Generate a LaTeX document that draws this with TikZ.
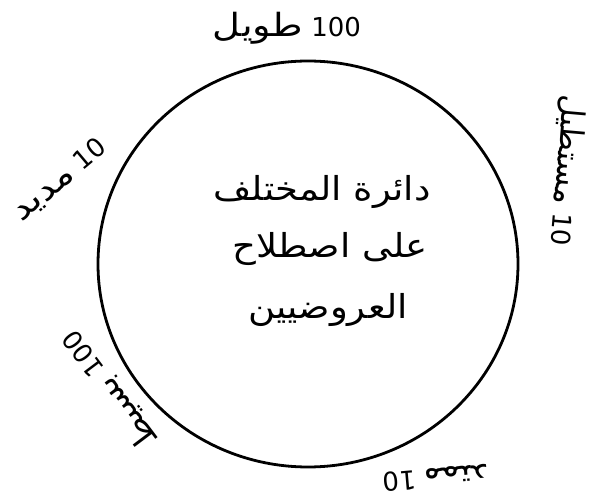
\documentclass[tikz,border=0pt]{standalone}
\usepackage{fontspec}
\usetikzlibrary{shapes.geometric}
\TeXXeTstate=1
\newfontfamily\arabicfont[Script=Arabic]{DejaVu Sans}
\setmainfont{DejaVu Sans}
\newcommand\aw[2][1.2]{\scalebox{#1}[1]{\arabicfont\fontsize{32}{36}\selectfont #2}}
\newcommand\cw[1]{\scalebox{1.12}[1]{\arabicfont\fontsize{33}{40}\selectfont\beginR #1\endR}}
\begin{document}
\begin{tikzpicture}[x=1pt,y=-1pt,
  ring/.style={ellipse,draw,line width=2.8pt,minimum width=420pt,minimum height=406pt,inner sep=0pt},
  lbl/.style={font=\fontsize{26}{30}\selectfont,inner sep=0pt},
  caption/.style={inner sep=0pt}]
\useasboundingbox (0,0) rectangle (597,502);
\node[ring] (ring) at (308,264) {};
\node[caption] (cap1) at (322,192) {\cw{دائرة المختلف}};
\node[caption] (cap2) at (330,249) {\cw{على اصطلاح}};
\node[caption] (cap3) at (328,310) {\cw{العروضيين}};
\node[lbl] (tawil) at (287,28) {\aw{طويل}~100};
\node[lbl,rotate=-95] (mustatil) at (567,171) {\aw[0.95]{مستطيل}~10};
\node[lbl,rotate=40] (madid) at (60,181) {\aw{مديد}~10};
\node[lbl,rotate=127] (basit) at (110,390) {\aw[1.05]{بسيط}~100};
\node[lbl,rotate=185] (mumtad) at (436,478) {\aw[1.05]{ممتد}~10};
\end{tikzpicture}
\end{document}
